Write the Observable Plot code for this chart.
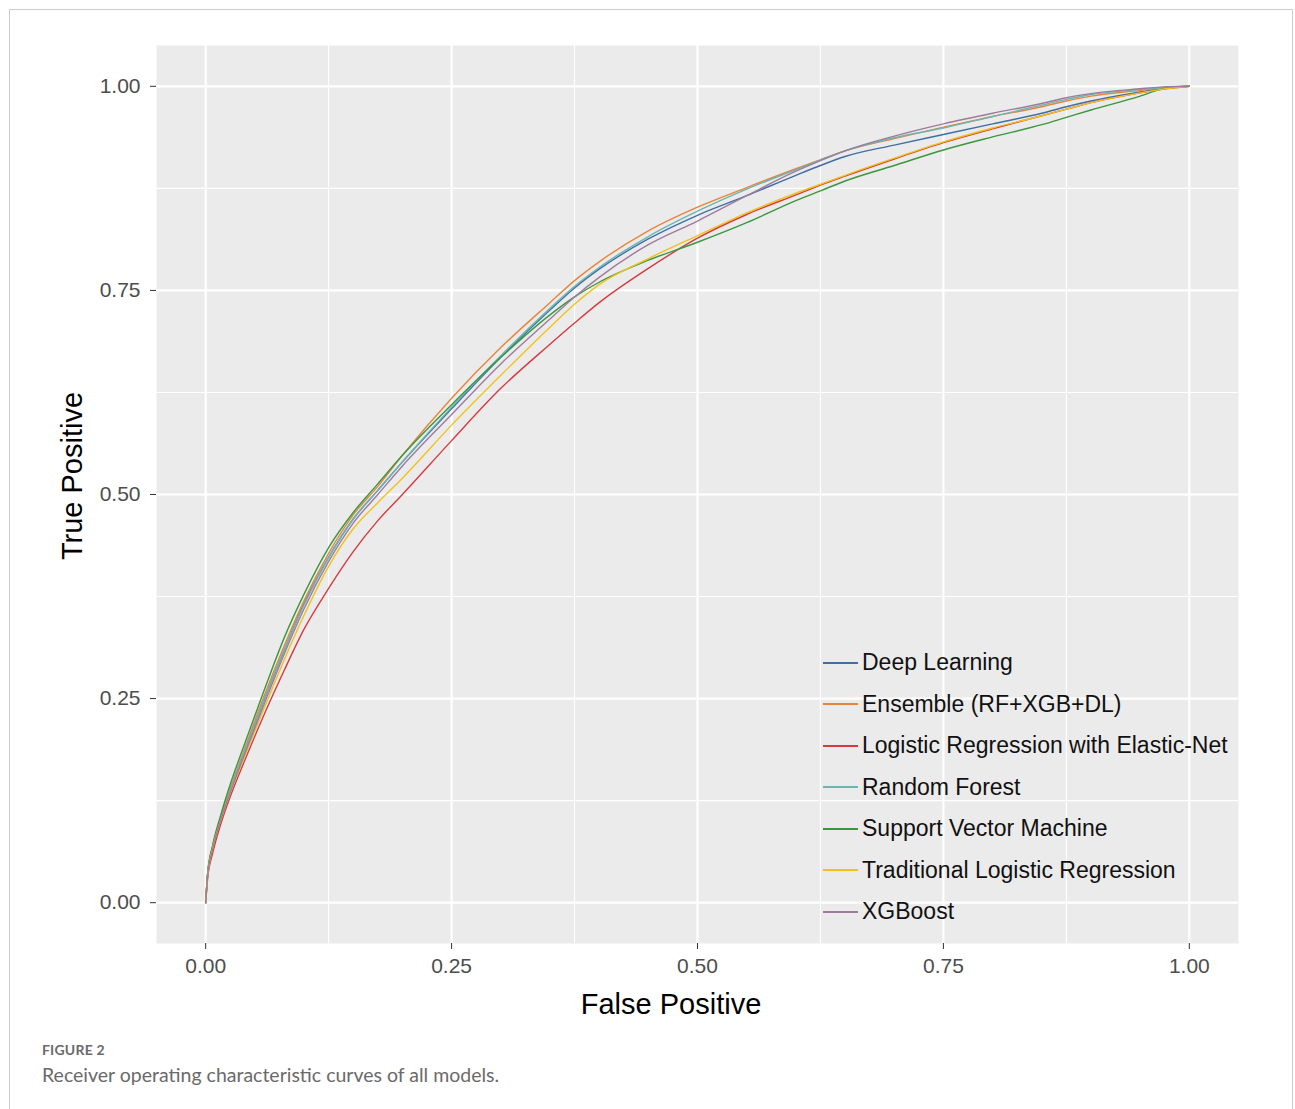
<!DOCTYPE html>
<html>
<head>
<meta charset="utf-8">
<script src="https://cdn.jsdelivr.net/npm/d3@7"></script>
<script src="https://cdn.jsdelivr.net/npm/@observablehq/plot@0.6"></script>
<style>
  html, body { margin: 0; padding: 0; background: #fff; }
  #page { position: relative; width: 1295px; height: 1109px; overflow: hidden; background: #fff; }
  #border { position: absolute; left: 9px; top: 9px; width: 1284px; height: 1200px; border: 1px solid #cdcdcd; box-sizing: border-box; }
  #chart { position: absolute; left: 0; top: 0; }
  .title { position: absolute; font-family: "Liberation Sans", Arial, sans-serif; font-size: 29px; color: #000; white-space: nowrap; }
  #xtitle { left: 671px; top: 1004px; transform: translate(-50%, -50%); }
  #ytitle { left: 72px; top: 476px; transform: translate(-50%, -50%) rotate(-90deg); }
  #legend { position: absolute; left: 823px; top: 642px; font-family: "Liberation Sans", Arial, sans-serif; font-size: 23px; color: #111; }
  .row { height: 41.5px; display: flex; align-items: center; white-space: nowrap; }
  .sw { width: 35px; height: 1.6px; margin-right: 4px; }
  #fig { position: absolute; left: 42px; top: 1041px; font-family: Lato, "Open Sans", sans-serif; font-size: 14px; font-weight: 700; color: #6a6a6a; letter-spacing: 0.2px; }
  #cap { position: absolute; left: 42px; top: 1063px; font-family: Lato, "Open Sans", sans-serif; font-size: 19.5px; color: #6a6a6a; }
</style>
</head>
<body>
<div id="page">
  <div id="border"></div>
  <div id="chart"></div>
  <div class="title" id="xtitle">False Positive</div>
  <div class="title" id="ytitle">True Positive</div>
  <div id="legend"></div>
  <div id="fig">FIGURE 2</div>
  <div id="cap">Receiver operating characteristic curves of all models.</div>
</div>
<script>
// ---- Data ----
const models = [
  "Deep Learning",
  "Ensemble (RF+XGB+DL)",
  "Logistic Regression with Elastic-Net",
  "Random Forest",
  "Support Vector Machine",
  "Traditional Logistic Regression",
  "XGBoost"
];
const colors = ["#3f6fa6", "#e8843a", "#d63a3e", "#6db5b1", "#3a983c", "#f0c21c", "#a07a9e"];

const fpr = [0, 0.002, 0.007, 0.015, 0.025, 0.04, 0.06, 0.08, 0.1, 0.125, 0.15, 0.175, 0.2, 0.25, 0.3, 0.35, 0.375, 0.4, 0.45, 0.5, 0.55, 0.6, 0.625, 0.65, 0.7, 0.75, 0.8, 0.85, 0.875, 0.9, 0.95, 0.97, 1];

const tprDeepLearning = [0, 0.035, 0.067, 0.102, 0.138, 0.187, 0.25, 0.31, 0.366, 0.423, 0.47, 0.505, 0.54, 0.605, 0.668, 0.726, 0.753, 0.776, 0.813, 0.842, 0.866, 0.891, 0.903, 0.914, 0.928, 0.941, 0.954, 0.967, 0.975, 0.982, 0.993, 0.997, 1];
const tprEnsemble     = [0, 0.035, 0.068, 0.103, 0.14, 0.19, 0.255, 0.315, 0.37, 0.428, 0.475, 0.51, 0.548, 0.618, 0.68, 0.735, 0.762, 0.785, 0.823, 0.852, 0.876, 0.899, 0.91, 0.921, 0.936, 0.95, 0.963, 0.975, 0.982, 0.988, 0.995, 0.998, 1];
const tprLogisticEN   = [0, 0.03, 0.06, 0.095, 0.13, 0.175, 0.232, 0.285, 0.335, 0.385, 0.43, 0.468, 0.5, 0.566, 0.63, 0.684, 0.71, 0.735, 0.777, 0.814, 0.843, 0.867, 0.879, 0.89, 0.911, 0.931, 0.948, 0.964, 0.972, 0.98, 0.992, 0.996, 1];
const tprRandomForest = [0, 0.035, 0.067, 0.102, 0.138, 0.187, 0.25, 0.31, 0.365, 0.423, 0.47, 0.505, 0.54, 0.607, 0.67, 0.728, 0.755, 0.778, 0.816, 0.847, 0.874, 0.898, 0.91, 0.921, 0.937, 0.949, 0.963, 0.977, 0.984, 0.99, 0.996, 0.998, 1];
const tprSVM          = [0, 0.036, 0.07, 0.106, 0.145, 0.196, 0.262, 0.325, 0.378, 0.435, 0.478, 0.513, 0.548, 0.61, 0.668, 0.72, 0.742, 0.76, 0.787, 0.809, 0.833, 0.86, 0.872, 0.884, 0.903, 0.922, 0.938, 0.953, 0.962, 0.971, 0.988, 0.996, 1];
const tprTraditional  = [0, 0.033, 0.066, 0.1, 0.135, 0.18, 0.24, 0.298, 0.352, 0.412, 0.458, 0.49, 0.52, 0.585, 0.646, 0.705, 0.733, 0.757, 0.789, 0.817, 0.845, 0.869, 0.88, 0.891, 0.912, 0.932, 0.949, 0.964, 0.972, 0.98, 0.992, 0.996, 1];
const tprXGBoost      = [0, 0.033, 0.065, 0.1, 0.135, 0.183, 0.245, 0.305, 0.36, 0.418, 0.465, 0.5, 0.535, 0.598, 0.66, 0.715, 0.742, 0.766, 0.806, 0.835, 0.866, 0.896, 0.909, 0.921, 0.939, 0.954, 0.967, 0.979, 0.986, 0.991, 0.997, 0.999, 1];

const tickValues = [0, 0.25, 0.5, 0.75, 1];
const minorValues = [0.125, 0.375, 0.625, 0.875];

// ---- Build table ----
const series = [tprDeepLearning, tprEnsemble, tprLogisticEN, tprRandomForest, tprSVM, tprTraditional, tprXGBoost];
const rows = [];
models.forEach((m, i) => fpr.forEach((x, j) => rows.push({model: m, fpr: x, tpr: series[i][j]})));

const fmt = d3.format(".2f");
const chart = Plot.plot({
  width: 1295,
  height: 1030,
  marginLeft: 156,
  marginRight: 57,
  marginTop: 45,
  marginBottom: 87,
  style: {background: "transparent", fontFamily: "Liberation Sans, Arial, sans-serif"},
  x: {domain: [-0.05, 1.05], label: null},
  y: {domain: [-0.05, 1.05], label: null},
  color: {domain: models, range: colors},
  marks: [
    Plot.frame({fill: "#EBEBEB", stroke: null}),
    Plot.ruleX(minorValues, {stroke: "#fff", strokeWidth: 1.1}),
    Plot.ruleY(minorValues, {stroke: "#fff", strokeWidth: 1.1}),
    Plot.ruleX(tickValues, {stroke: "#fff", strokeWidth: 2.2}),
    Plot.ruleY(tickValues, {stroke: "#fff", strokeWidth: 2.2}),
    Plot.line(rows, {x: "fpr", y: "tpr", z: "model", stroke: "model", strokeWidth: 1.4, curve: "monotone-x"}),
    Plot.axisX(tickValues, {tickSize: 6, tickPadding: 9, tickFormat: fmt, fontSize: 21, stroke: "#333", fill: "#4d4d4d", label: null}),
    Plot.axisY(tickValues, {tickSize: 6, tickPadding: 10, tickFormat: fmt, fontSize: 21, stroke: "#333", fill: "#4d4d4d", label: null})
  ]
});
document.getElementById("chart").appendChild(chart);

// ---- Legend ----
const legend = document.getElementById("legend");
models.forEach((m, i) => {
  const r = document.createElement("div");
  r.className = "row";
  const s = document.createElement("span");
  s.className = "sw";
  s.style.background = colors[i];
  const t = document.createElement("span");
  t.textContent = m;
  r.appendChild(s);
  r.appendChild(t);
  legend.appendChild(r);
});
</script>
</body>
</html>
